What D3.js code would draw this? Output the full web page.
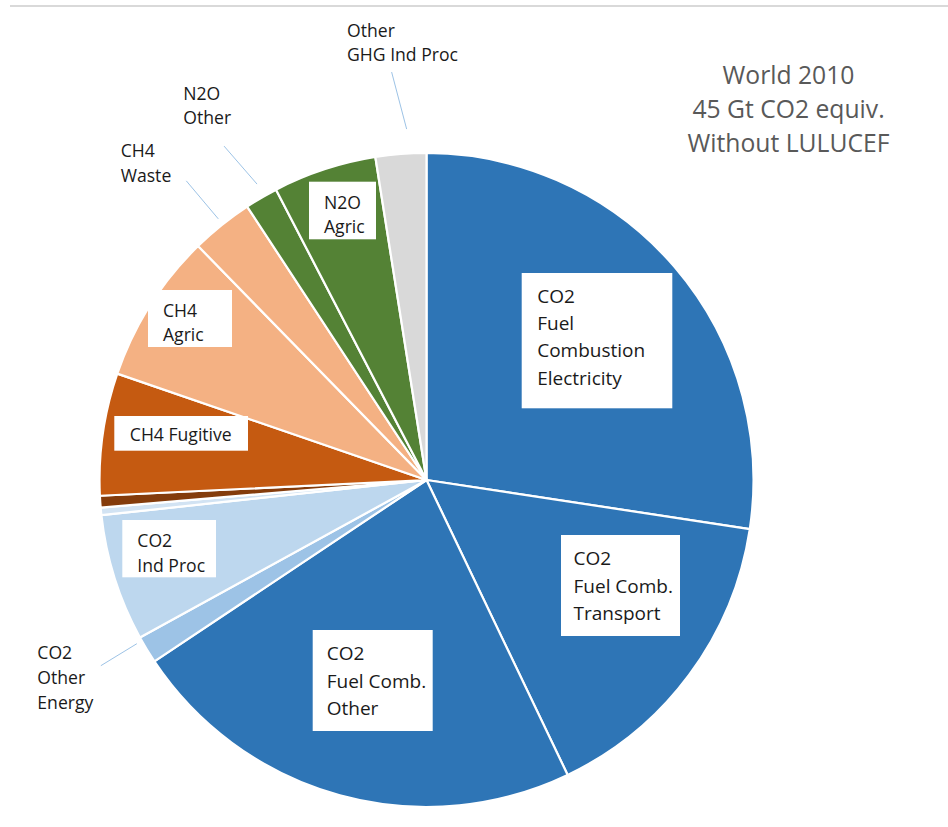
<!DOCTYPE html>
<html>
<head>
<meta charset="utf-8">
<script src="https://cdn.jsdelivr.net/npm/d3@7"></script>
<style>
  html, body { margin: 0; padding: 0; background: #ffffff; }
  svg { display: block; }
  text { font-family: "Open Sans", "Noto Sans", sans-serif; }
</style>
</head>
<body>
<svg id="chart" width="948" height="827"></svg>
<script>
// World greenhouse-gas emissions 2010 (without LULUCF), share of total in %
const categories = [
  "CO2 Fuel Combustion Electricity",
  "CO2 Fuel Comb. Transport",
  "CO2 Fuel Comb. Other",
  "CO2 Other Energy",
  "CO2 Ind Proc",
  "CO2 Waste",
  "CH4 Other",
  "CH4 Fugitive",
  "CH4 Agric",
  "CH4 Waste",
  "N2O Other",
  "N2O Agric",
  "Other GHG Ind Proc"
];
const shares = [27.4, 15.5, 22.75, 1.36, 6.28, 0.37, 0.58, 6.04, 7.42, 3.07, 1.63, 5.11, 2.5];
const sliceColors = [
  "#2e75b6", "#2e75b6", "#2e75b6", "#9dc3e6", "#bdd7ee", "#d2e3f3", "#843c0c",
  "#c55a11", "#f4b183", "#f4b183", "#548235", "#548235", "#d9d9d9"
];
// Text lines shown for each labelled slice
const labelText = {
  "CO2 Fuel Combustion Electricity": ["CO2", "Fuel", "Combustion", "Electricity"],
  "CO2 Fuel Comb. Transport": ["CO2", "Fuel Comb.", "Transport"],
  "CO2 Fuel Comb. Other": ["CO2", "Fuel Comb.", "Other"],
  "CO2 Other Energy": ["CO2", "Other", "Energy"],
  "CO2 Ind Proc": ["CO2", "Ind Proc"],
  "CH4 Fugitive": ["CH4 Fugitive"],
  "CH4 Agric": ["CH4", "Agric"],
  "CH4 Waste": ["CH4", "Waste"],
  "N2O Other": ["N2O", "Other"],
  "N2O Agric": ["N2O", "Agric"],
  "Other GHG Ind Proc": ["Other", "GHG Ind Proc"]
};
const titleLines = ["World 2010", "45 Gt CO2 equiv.", "Without LULUCEF"];

// ---- layout ----
const W = 948, H = 827;
const cx = 426.5, cy = 480, radius = 327;
const labelFont = 17.6, bigLabelFont = 19, titleFont = 24.7;

// White boxed labels, placed relative to the pie centre
const boxedLabels = [
  { cat: "CO2 Fuel Combustion Electricity", x: 95.2, y: -207, w: 150.6, h: 135.3, base: 29.5, lh: 27.4, pad: 15.5, fs: bigLabelFont },
  { cat: "CO2 Fuel Comb. Transport", x: 134.5, y: 55, w: 119, h: 101, base: 30, lh: 27.5, pad: 12.5, fs: bigLabelFont },
  { cat: "CO2 Fuel Comb. Other", x: -113.8, y: 150, w: 120, h: 101, base: 30, lh: 27.5, pad: 14, fs: bigLabelFont },
  { cat: "CO2 Ind Proc", x: -304.2, y: 40, w: 93.7, h: 57.3, base: 27.3, lh: 24.4, pad: 15, fs: labelFont },
  { cat: "CH4 Fugitive", x: -312.2, y: -64, w: 133.7, h: 34.7, base: 25, lh: 24.4, pad: 15.5, fs: labelFont },
  { cat: "CH4 Agric", x: -278.5, y: -190, w: 84, h: 57, base: 26.5, lh: 24.4, pad: 15, fs: labelFont },
  { cat: "N2O Agric", x: -117.5, y: -298.3, w: 67, h: 57.6, base: 27.6, lh: 24.2, pad: 15, fs: labelFont }
];
// Labels outside the pie with leader lines: t = position along the slice arc,
// gap = distance of the line start beyond the rim, (ldx, ldy) = line vector
const outsideLabels = [
  { cat: "Other GHG Ind Proc", t: 0.64, gap: 24.5, ldx: -15, ldy: -57, tx: -79.5, ty: -443.3, lh: 24.3 },
  { cat: "N2O Other", t: 0.59, gap: 14, ldx: -33, ldy: -38, tx: -243.2, ty: -380, lh: 24 },
  { cat: "CH4 Waste", t: 0.52, gap: 7, ldx: -32, ldy: -38, tx: -305.8, ty: -322.7, lh: 24.4 },
  { cat: "CO2 Other Energy", t: 0.86, gap: 5.7, ldx: -36, ldy: 22, tx: -389.2, ty: 179.3, lh: 24.8 }
];

const svg = d3.select("#chart");

// thin rule along the top edge
svg.append("line")
  .attr("x1", 10).attr("x2", W)
  .attr("y1", 6).attr("y2", 6)
  .attr("stroke", "#d9d9d9").attr("stroke-width", 2);

const data = categories.map((c, i) => ({ cat: c, value: shares[i], color: sliceColors[i] }));

const pie = d3.pie().sort(null).value(d => d.value).startAngle(0).endAngle(2 * Math.PI);
const arcs = pie(data);
const arcGen = d3.arc().innerRadius(0).outerRadius(radius);
const byCat = new Map(arcs.map(a => [a.data.cat, a]));

const g = svg.append("g").attr("transform", `translate(${cx},${cy})`);

g.selectAll("path.slice")
  .data(arcs)
  .join("path")
  .attr("class", "slice")
  .attr("d", arcGen)
  .attr("fill", d => d.data.color)
  .attr("stroke", "#ffffff")
  .attr("stroke-width", 2.2)
  .attr("stroke-linejoin", "round");

// boxed labels
const boxes = g.selectAll("g.box")
  .data(boxedLabels)
  .join("g")
  .attr("class", "box")
  .attr("transform", d => `translate(${d.x},${d.y})`);

boxes.append("rect")
  .attr("width", d => d.w)
  .attr("height", d => d.h)
  .attr("fill", "#ffffff");

boxes.each(function (d) {
  const t = d3.select(this).append("text")
    .attr("font-size", d.fs)
    .attr("fill", "#1a1a1a");
  labelText[d.cat].forEach((line, i) => {
    t.append("tspan")
      .attr("x", d.pad)
      .attr("y", d.base + i * d.lh)
      .text(line);
  });
});

// outside labels with leader lines
outsideLabels.forEach(d => {
  const a = byCat.get(d.cat);
  const ang = a.startAngle + d.t * (a.endAngle - a.startAngle);
  const r0 = radius + d.gap;
  const x0 = r0 * Math.sin(ang), y0 = -r0 * Math.cos(ang);
  g.append("line")
    .attr("x1", x0).attr("y1", y0)
    .attr("x2", x0 + d.ldx).attr("y2", y0 + d.ldy)
    .attr("stroke", "#9dc3e6").attr("stroke-width", 1);
  const t = g.append("text")
    .attr("font-size", labelFont)
    .attr("fill", "#1a1a1a");
  labelText[d.cat].forEach((line, i) => {
    t.append("tspan")
      .attr("x", d.tx)
      .attr("y", d.ty + i * d.lh)
      .text(line);
  });
});

// title block
const title = svg.append("text")
  .attr("text-anchor", "middle")
  .attr("font-size", titleFont)
  .attr("fill", "#595959");
titleLines.forEach((line, i) => {
  title.append("tspan")
    .attr("x", 788.5)
    .attr("y", 84.3 + i * 33.8)
    .text(line);
});
</script>
</body>
</html>
